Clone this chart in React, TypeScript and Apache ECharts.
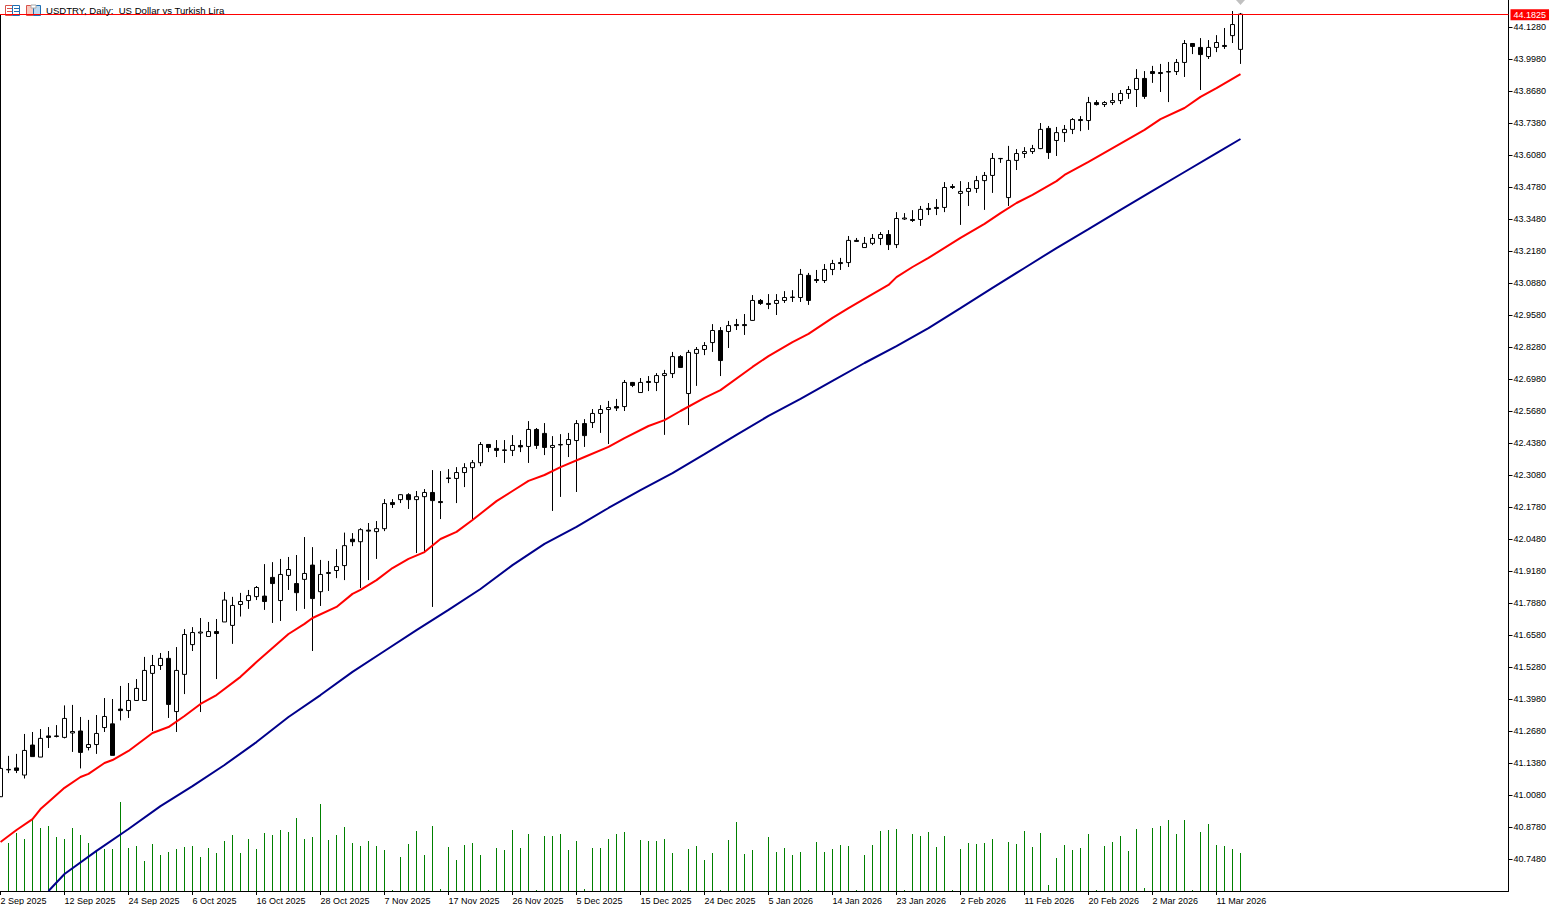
import React, { useEffect, useRef } from "react";
import * as echarts from "echarts";

const chartTitle = "USDTRY, Daily:  US Dollar vs Turkish Lira";
const lastPriceLabel = "44.1825";
const lastPrice = 44.1825;

const dateTicks = ["2 Sep 2025","12 Sep 2025","24 Sep 2025","6 Oct 2025","16 Oct 2025","28 Oct 2025","7 Nov 2025","17 Nov 2025","26 Nov 2025","5 Dec 2025","15 Dec 2025","24 Dec 2025","5 Jan 2026","14 Jan 2026","23 Jan 2026","2 Feb 2026","11 Feb 2026","20 Feb 2026","2 Mar 2026","11 Mar 2026"];

const priceTicks = [44.128,43.998,43.868,43.738,43.608,43.478,43.348,43.218,43.088,42.958,42.828,42.698,42.568,42.438,42.308,42.178,42.048,41.918,41.788,41.658,41.528,41.398,41.268,41.138,41.008,40.878,40.748];

// [open, close, low, high]
const ohlc = [
[41.003,41.118,41.002,44.179],[41.112,41.114,41.099,41.169],[41.120,41.110,41.099,41.177],[41.091,41.191,41.077,41.258],
[41.213,41.166,41.166,41.266],[41.164,41.240,41.164,41.278],[41.250,41.244,41.201,41.286],[41.250,41.248,41.244,41.294],
[41.244,41.321,41.240,41.374],[41.262,41.268,41.185,41.376],[41.270,41.183,41.118,41.327],[41.203,41.215,41.191,41.315],
[41.215,41.260,41.177,41.335],[41.284,41.329,41.266,41.404],[41.299,41.171,41.171,41.400],[41.359,41.353,41.313,41.453],
[41.353,41.394,41.323,41.465],[41.394,41.443,41.392,41.481],[41.394,41.516,41.394,41.571],[41.504,41.536,41.270,41.579],
[41.536,41.565,41.518,41.587],[41.565,41.378,41.323,41.595],[41.349,41.516,41.266,41.611],[41.500,41.662,41.420,41.684],
[41.621,41.670,41.595,41.692],[41.668,41.672,41.347,41.729],[41.654,41.674,41.654,41.713],[41.674,41.666,41.481,41.725],
[41.713,41.802,41.713,41.835],[41.699,41.780,41.624,41.815],[41.784,41.796,41.735,41.831],[41.800,41.820,41.766,41.843],
[41.816,41.853,41.802,41.859],[41.818,41.796,41.762,41.948],[41.894,41.869,41.709,41.956],[41.800,41.906,41.717,41.969],
[41.902,41.926,41.843,41.977],[41.869,41.832,41.758,41.985],[41.886,41.910,41.766,42.058],[41.944,41.808,41.595,42.017],
[41.836,41.906,41.778,41.965],[41.910,41.914,41.839,41.961],[41.922,41.938,41.891,42.009],[41.942,42.023,41.883,42.076],
[42.049,42.039,42.021,42.074],[42.039,42.088,41.851,42.094],[42.086,42.082,41.883,42.115],[42.080,42.092,41.969,42.123],
[42.092,42.194,42.082,42.212],[42.198,42.190,42.176,42.212],[42.210,42.230,42.196,42.232],[42.230,42.210,42.172,42.236],
[42.210,42.222,41.993,42.245],[42.222,42.239,41.993,42.253],[42.239,42.206,41.774,42.330],[42.202,42.198,42.131,42.326],
[42.298,42.296,42.277,42.334],[42.296,42.320,42.196,42.342],[42.320,42.340,42.261,42.358],[42.340,42.360,42.127,42.371],
[42.360,42.434,42.346,42.444],[42.434,42.422,42.403,42.436],[42.418,42.410,42.383,42.452],[42.412,42.410,42.359,42.452],
[42.410,42.430,42.387,42.472],[42.430,42.424,42.403,42.452],[42.426,42.495,42.359,42.529],[42.495,42.430,42.416,42.501],
[42.479,42.422,42.391,42.521],[42.422,42.430,42.164,42.468],[42.432,42.434,42.221,42.476],[42.434,42.454,42.383,42.481],
[42.450,42.519,42.241,42.533],[42.519,42.470,42.424,42.537],[42.523,42.560,42.501,42.578],[42.560,42.576,42.481,42.594],
[42.576,42.584,42.436,42.611],[42.588,42.582,42.570,42.619],[42.588,42.686,42.570,42.696],[42.686,42.674,42.667,42.688],
[42.645,42.686,42.645,42.704],[42.690,42.686,42.651,42.712],[42.686,42.714,42.651,42.724],[42.714,42.722,42.473,42.737],
[42.722,42.791,42.704,42.810],[42.791,42.747,42.747,42.797],[42.641,42.808,42.513,42.818],[42.804,42.820,42.672,42.830],
[42.820,42.836,42.797,42.850],[42.848,42.897,42.810,42.923],[42.897,42.775,42.712,42.911],[42.893,42.917,42.826,42.936],
[42.921,42.917,42.899,42.944],[42.921,42.917,42.879,42.964],[42.938,43.019,42.936,43.041],[43.019,43.007,43.001,43.025],
[43.007,43.003,42.984,43.045],[43.007,43.019,42.960,43.045],[43.019,43.031,43.009,43.057],[43.031,43.033,43.013,43.061],
[43.031,43.125,43.013,43.147],[43.121,43.019,43.001,43.131],[43.104,43.100,43.090,43.143],[43.100,43.145,43.090,43.167],
[43.145,43.169,43.122,43.184],[43.173,43.169,43.143,43.192],[43.173,43.263,43.155,43.281],[43.263,43.259,43.257,43.273],
[43.234,43.251,43.234,43.277],[43.251,43.271,43.244,43.289],[43.271,43.287,43.244,43.297],[43.287,43.246,43.224,43.305],
[43.246,43.352,43.232,43.378],[43.350,43.354,43.346,43.374],[43.348,43.344,43.338,43.386],[43.348,43.389,43.322,43.403],
[43.393,43.389,43.366,43.415],[43.397,43.393,43.366,43.431],[43.397,43.478,43.378,43.500],[43.482,43.478,43.472,43.492],
[43.454,43.462,43.326,43.504],[43.462,43.474,43.403,43.500],[43.474,43.506,43.456,43.525],[43.506,43.527,43.387,43.541],
[43.527,43.596,43.456,43.618],[43.596,43.595,43.578,43.598],[43.437,43.588,43.403,43.647],[43.588,43.616,43.549,43.634],
[43.616,43.624,43.598,43.642],[43.624,43.636,43.614,43.651],[43.636,43.714,43.634,43.740],[43.718,43.620,43.594,43.728],
[43.669,43.701,43.606,43.724],[43.701,43.714,43.663,43.732],[43.714,43.754,43.695,43.760],[43.754,43.750,43.707,43.768],
[43.750,43.823,43.712,43.846],[43.823,43.815,43.811,43.833],[43.815,43.823,43.805,43.829],[43.823,43.831,43.813,43.862],
[43.831,43.860,43.817,43.874],[43.860,43.876,43.838,43.890],[43.876,43.921,43.805,43.959],[43.921,43.848,43.838,43.951],
[43.949,43.941,43.903,43.972],[43.945,43.941,43.866,43.980],[43.949,43.947,43.825,43.988],[43.949,43.986,43.935,44.000],
[43.986,44.063,43.927,44.077],[44.063,44.051,44.020,44.065],[44.047,44.018,43.874,44.085],[44.010,44.047,44.000,44.077],
[44.047,44.067,44.028,44.097],[44.055,44.051,44.041,44.126],[44.095,44.140,44.065,44.195],[44.039,44.1825,43.980,44.187],
];

const volumes = [
0,48,58,52,72,63,65,54,52,63,56,48,41,42,42,89,43,45,30,47,36,39,42,44,45,34,43,38,50,56,38,52,42,58,56,61,59,73,52,54,87,51,56,64,48,45,50,45,41,1,34,47,60,
36,65,2,44,31,46,48,36,1,43,41,61,43,57,1,55,55,57,41,50,2,43,43,52,57,59,0,51,50,50,52,38,1,42,45,31,38,1,51,69,37,41,0,54,39,43,36,39,1,49,39,42,
46,45,1,36,46,60,61,62,1,57,55,59,44,55,1,42,48,47,48,52,0,49,47,60,44,58,6,33,46,41,43,57,1,45,49,55,40,62,3,63,65,71,57,71,1,59,67,46,45,42,38,
];

const redBars = [0,2,4,5,6,8,10,11,13,14,16,19,21,23,25,27,30,32,34,36,38,39,42,44,45,47,49,51,53,55,57,59,62,64,66,68,70,73,76,78,81,83,85,88,90,94,96,99,101,104,106,109,111,112,114,116,120,123,125,127,129,132,133,136,143,145,148,150,152,155];
const redMa = [40.819,40.868,40.912,40.953,40.982,41.039,41.083,41.096,41.140,41.152,41.189,41.262,41.286,41.331,41.380,41.416,41.490,41.550,41.607,41.664,41.705,41.729,41.774,41.827,41.843,41.883,41.932,41.969,41.997,42.050,42.079,42.127,42.204,42.245,42.286,42.310,42.342,42.383,42.424,42.460,42.509,42.533,42.570,42.623,42.655,42.749,42.793,42.850,42.883,42.948,42.988,43.045,43.082,43.114,43.155,43.192,43.273,43.330,43.374,43.415,43.448,43.504,43.529,43.582,43.712,43.756,43.801,43.846,43.882,43.939];
const blueBars = [6,8,12,16,20,24,28,32,36,40,44,48,52,56,60,64,68,72,76,80,84,88,92,96,100,104,108,112,116,120,124,128,132,136,140,144,148,152,155];
const blueMa = [40.620,40.689,40.783,40.872,40.965,41.046,41.132,41.225,41.327,41.416,41.510,41.595,41.680,41.762,41.847,41.944,42.030,42.099,42.176,42.249,42.318,42.395,42.473,42.550,42.619,42.692,42.765,42.834,42.907,42.988,43.070,43.151,43.232,43.309,43.387,43.464,43.541,43.618,43.675];

const TOTAL_SLOTS = 189;
const TICK_EVERY = 8;
const PAGE_SHIFT = 4;
const categories: string[] = Array.from({ length: TOTAL_SLOTS }, (_, i) =>
  i % TICK_EVERY === 0 && i / TICK_EVERY < dateTicks.length ? dateTicks[i / TICK_EVERY] : ""
);
const FONT = "'Liberation Sans', Arial, sans-serif";

export default function App() {
  const ref = useRef<HTMLDivElement>(null);
  useEffect(() => {
    document.body.style.margin = "0";
    document.body.style.background = "#ffffff";
    document.body.style.overflow = "hidden";
    const chart = echarts.init(ref.current!, null, { renderer: "svg" });
    const showTick = (_: number, v: string) => v !== "";
    chart.setOption({
      animation: false,
      backgroundColor: "#ffffff",
      title: {
        text: chartTitle, left: 41 + PAGE_SHIFT, top: 0,
        textStyle: { fontFamily: FONT, fontSize: 9.6, fontWeight: "normal", color: "#000000" },
      },
      grid: { left: 0.5, top: 0, width: 1512, height: 891, containLabel: false },
      xAxis: {
        type: "category", data: categories, boundaryGap: true,
        axisLine: { lineStyle: { color: "#000000", width: 1 } },
        axisTick: { show: true, alignWithLabel: true, interval: showTick, length: 4, lineStyle: { color: "#000000" } },
        axisLabel: { interval: showTick, align: "left", margin: 5, color: "#000000", fontFamily: FONT, fontSize: 9, hideOverlap: false },
        splitLine: { show: false },
      },
      yAxis: [
        {
          type: "value", position: "right", min: 40.62, max: 44.2397, scale: true,
          axisLine: { show: true, lineStyle: { color: "#000000", width: 1 } },
          axisTick: { show: true, customValues: priceTicks, length: 4, lineStyle: { color: "#000000" } },
          axisLabel: {
            customValues: priceTicks, margin: 5, color: "#000000", fontFamily: FONT, fontSize: 9,
            formatter: (v: number) => v.toFixed(4),
          },
          splitLine: { show: false },
        },
        { type: "value", show: false, min: 0, max: 891, splitLine: { show: false } },
      ],
      series: [
        {
          type: "bar", name: "Volume", yAxisIndex: 1, data: volumes, barWidth: 1,
          itemStyle: { color: "#008000" }, silent: true,
        },
        {
          type: "line", name: "MA slow", data: blueBars.map((b, i) => [b, blueMa[i]]),
          showSymbol: false, symbol: "none", lineStyle: { color: "#00008b", width: 2 }, silent: true,
        },
        {
          type: "line", name: "MA fast", data: redBars.map((b, i) => [b, redMa[i]]),
          showSymbol: false, symbol: "none", lineStyle: { color: "#ff0000", width: 2 }, silent: true,
        },
        {
          type: "candlestick", name: "USDTRY", data: ohlc, barWidth: 4, silent: true,
          itemStyle: {
            color: "#ffffff", color0: "#000000", borderColor: "#000000", borderColor0: "#000000",
            borderColorDoji: "#000000", borderWidth: 1,
          },
          markLine: {
            silent: true, symbol: "none", animation: false,
            lineStyle: { color: "#ff0000", width: 1, type: "solid" },
            label: {
              show: true, position: "end", distance: 2, formatter: lastPriceLabel, color: "#ffffff",
              backgroundColor: "#ff0000", padding: [1, 3, 1, 3], fontFamily: FONT, fontSize: 9,
            },
            data: [{ yAxis: lastPrice }],
          },
        },
      ],
      graphic: [
        {
          type: "group", x: PAGE_SHIFT, y: 0, z: 20,
          children: [
            { type: "rect", shape: { x: 5.5, y: 5.5, width: 7, height: 10 }, style: { fill: "#fff", stroke: "#d9534a", lineWidth: 1 } },
            { type: "rect", shape: { x: 12.5, y: 5.5, width: 7, height: 10 }, style: { fill: "#fff", stroke: "#1f6fb2", lineWidth: 1 } },
            { type: "line", shape: { x1: 7, y1: 8.5, x2: 12, y2: 8.5 }, style: { stroke: "#d9534a" } },
            { type: "line", shape: { x1: 7, y1: 11.5, x2: 12, y2: 11.5 }, style: { stroke: "#d9534a" } },
            { type: "line", shape: { x1: 14, y1: 8.5, x2: 19, y2: 8.5 }, style: { stroke: "#1f6fb2" } },
            { type: "line", shape: { x1: 14, y1: 11.5, x2: 19, y2: 11.5 }, style: { stroke: "#1f6fb2" } },
            { type: "rect", shape: { x: 26.5, y: 5.5, width: 7, height: 10 }, style: { fill: "#f9c9bf", stroke: "#d9534a", lineWidth: 1 } },
            { type: "rect", shape: { x: 33.5, y: 5.5, width: 7, height: 10 }, style: { fill: "#bcd9f0", stroke: "#1f6fb2", lineWidth: 1 } },
            { type: "rect", shape: { x: 31, y: 5, width: 5, height: 3 }, style: { fill: "#fff", stroke: "#aaaaaa", lineWidth: 1 } },
            { type: "polygon", shape: { points: [[1236, 0], [1245, 0], [1240.5, 5]] }, style: { fill: "#c0c0c0" } },
          ],
        },
      ],
    });
    return () => chart.dispose();
  }, []);
  return <div ref={ref} style={{ position: "absolute", left: -PAGE_SHIFT, top: 0, width: 1553 + PAGE_SHIFT, height: 905 }} />;
}
